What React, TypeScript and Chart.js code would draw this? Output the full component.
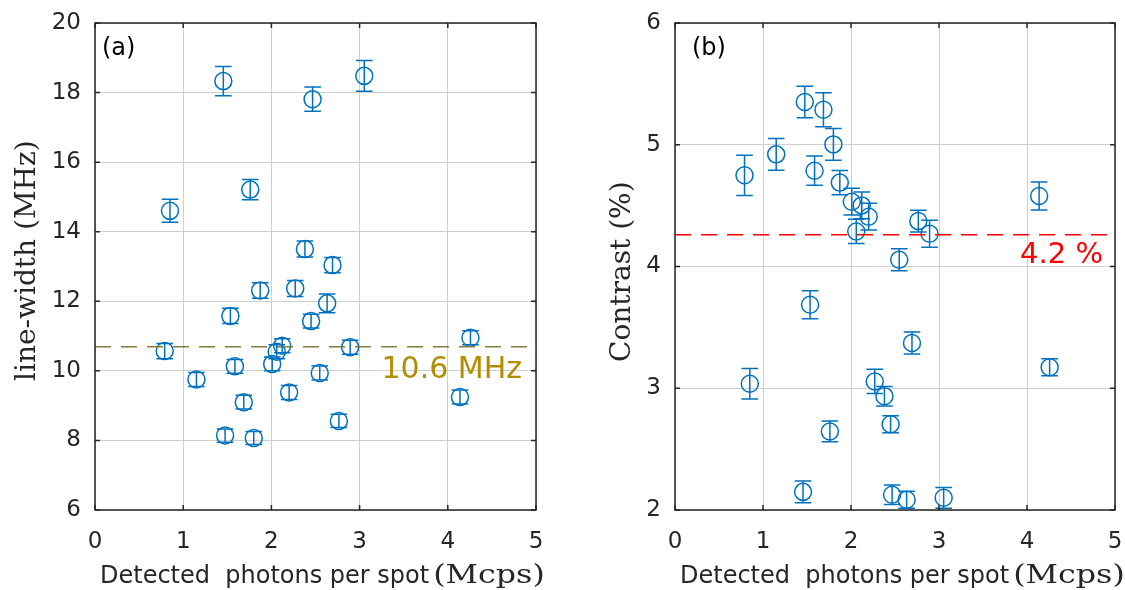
import React, { useEffect, useRef } from "react";
import { Chart, registerables } from "chart.js";

Chart.register(...registerables);

// ---------- data ----------
const photons = [0.79, 0.85, 1.15, 1.455, 1.475, 1.535, 1.586, 1.687, 1.76, 1.8, 1.873, 2.009, 2.06, 2.122, 2.201, 2.27, 2.38, 2.45, 2.467, 2.548, 2.632, 2.693, 2.765, 2.893, 3.053, 4.138, 4.257];
const lineWidth = [10.57, 14.6, 9.75, 18.33, 8.14, 11.58, 10.13, 9.1, 15.21, 8.07, 12.31, 10.2, 10.55, 10.72, 9.38, 12.37, 13.5, 11.43, 17.81, 9.94, 11.94, 13.04, 8.56, 10.68, 18.48, 9.25, 10.95];
const lineWidthErr = [0.22, 0.33, 0.2, 0.42, 0.19, 0.22, 0.2, 0.2, 0.29, 0.19, 0.22, 0.2, 0.2, 0.2, 0.2, 0.23, 0.23, 0.2, 0.35, 0.2, 0.27, 0.22, 0.19, 0.2, 0.44, 0.2, 0.2];
const contrast = [4.749, 3.037, 4.921, 2.149, 5.351, 3.686, 4.787, 5.288, 2.645, 5.003, 4.689, 4.532, 4.288, 4.502, 4.409, 3.056, 2.935, 2.705, 2.125, 4.056, 2.084, 3.371, 4.373, 4.269, 2.1, 4.579, 3.173];
const contrastErr = [0.165, 0.125, 0.13, 0.09, 0.13, 0.115, 0.12, 0.14, 0.085, 0.13, 0.1, 0.11, 0.1, 0.11, 0.11, 0.1, 0.08, 0.07, 0.08, 0.09, 0.07, 0.09, 0.09, 0.11, 0.085, 0.115, 0.07];

const xTicks = [0, 1, 2, 3, 4, 5];
const lwTicks = [6, 8, 10, 12, 14, 16, 18, 20];
const cTicks = [2, 3, 4, 5, 6];

const lwMean = 10.69;
const lwMeanLabel = "10.6 MHz";
const cMean = 4.261;
const cMeanLabel = "4.2 %";

const xTitleSans = "Detected  photons per spot";
const xTitleSerif = "(Mcps)";
const lwTitle = "line-width (MHz)";
const cTitle = "Contrast (%)";

// ---------- styles ----------
const BLUE = "#0072BD";
const AXIS = "#262626";
const GRID = "#cfcfcf";
const SANS = "'DejaVu Sans', Verdana, sans-serif";
const SERIF = "'DejaVu Serif', serif";

const errorBarPlugin = {
  id: "errorBars",
  afterDatasetsDraw(chart: any) {
    const ctx = chart.ctx;
    const xs = chart.scales.x;
    const ys = chart.scales.y;
    chart.data.datasets.forEach((ds: any) => {
      if (!ds.errors) return;
      ctx.save();
      ctx.strokeStyle = ds.borderColor;
      ctx.lineWidth = 1.5;
      ds.data.forEach((p: any, i: number) => {
        const e = ds.errors[i];
        const px = xs.getPixelForValue(p.x);
        const top = ys.getPixelForValue(p.y + e);
        const bot = ys.getPixelForValue(p.y - e);
        const cw = 8.3;
        ctx.beginPath();
        ctx.moveTo(px, top);
        ctx.lineTo(px, bot);
        ctx.moveTo(px - cw, top);
        ctx.lineTo(px + cw, top);
        ctx.moveTo(px - cw, bot);
        ctx.lineTo(px + cw, bot);
        ctx.stroke();
      });
      ctx.restore();
    });
  },
};

const decorPlugin = {
  id: "decor",
  afterDraw(chart: any, _args: any, o: any) {
    const ctx = chart.ctx;
    const a = chart.chartArea;
    const xs = chart.scales.x;
    const ys = chart.scales.y;
    ctx.save();
    // box
    ctx.strokeStyle = AXIS;
    ctx.lineWidth = 1.5;
    ctx.strokeRect(a.left, a.top, a.right - a.left, a.bottom - a.top);
    // inward ticks
    const tl = 5;
    ctx.beginPath();
    xs.ticks.forEach((t: any) => {
      const px = xs.getPixelForValue(t.value);
      ctx.moveTo(px, a.bottom);
      ctx.lineTo(px, a.bottom - tl);
      ctx.moveTo(px, a.top);
      ctx.lineTo(px, a.top + tl);
    });
    ys.ticks.forEach((t: any) => {
      const py = ys.getPixelForValue(t.value);
      ctx.moveTo(a.left, py);
      ctx.lineTo(a.left + tl, py);
      ctx.moveTo(a.right, py);
      ctx.lineTo(a.right - tl, py);
    });
    ctx.stroke();

    // panel label
    ctx.fillStyle = "#000";
    ctx.font = `24px ${SANS}`;
    ctx.textAlign = "left";
    ctx.textBaseline = "alphabetic";
    ctx.fillText(o.panel, a.left + o.panelDx, a.top + 32);

    // mean label
    ctx.fillStyle = o.meanColor;
    ctx.font = `${o.meanFont}px ${SANS}`;
    ctx.textAlign = "right";
    ctx.fillText(o.meanText, a.right - o.meanDx, ys.getPixelForValue(o.meanValue) + o.meanDy);

    // x title
    ctx.fillStyle = AXIS;
    ctx.textAlign = "left";
    ctx.font = `24px ${SANS}`;
    const x0 = a.left + 5;
    const base = 583;
    ctx.fillText(xTitleSans, x0, base);
    const w1 = ctx.measureText(xTitleSans).width;
    ctx.font = `26px ${SERIF}`;
    ctx.save();
    ctx.translate(x0 + w1 + 4, base);
    ctx.scale(1.22, 1);
    ctx.fillText(xTitleSerif, 0, 0);
    ctx.restore();

    // y title
    ctx.save();
    ctx.font = `28px ${SERIF}`;
    ctx.translate(a.left - o.yTitleGap, o.yTitleBottom);
    ctx.rotate(-Math.PI / 2);
    ctx.textAlign = "left";
    ctx.fillText(o.yTitle, 0, 0);
    ctx.restore();

    ctx.restore();
  },
};

function makeConfig(
  yVals: number[],
  yErr: number[],
  yTickVals: number[],
  meanValue: number,
  meanLineColor: string,
  decor: any,
  padRight: number
): any {
  const step = yTickVals[1] - yTickVals[0];
  return {
    type: "scatter",
    data: {
      datasets: [
        {
          type: "line",
          data: [
            { x: xTicks[0], y: meanValue },
            { x: xTicks[xTicks.length - 1], y: meanValue },
          ],
          borderColor: meanLineColor,
          borderWidth: 1.5,
          borderDash: [16, 10],
          pointRadius: 0,
          fill: false,
        },
        {
          data: photons.map((x, i) => ({ x, y: yVals[i] })),
          errors: yErr,
          borderColor: BLUE,
          backgroundColor: "rgba(0,0,0,0)",
          pointRadius: 8.5,
          pointHoverRadius: 8.5,
          pointBorderWidth: 1.5,
          showLine: false,
          clip: false,
        },
      ],
    },
    options: {
      animation: false,
      responsive: false,
      devicePixelRatio: 1,
      layout: { padding: { left: 0, right: padRight, top: 23, bottom: 0 } },
      plugins: {
        legend: { display: false },
        tooltip: { enabled: false },
        decor,
      },
      scales: {
        x: {
          type: "linear",
          min: xTicks[0],
          max: xTicks[xTicks.length - 1],
          afterFit: (s: any) => {
            s.height = 80;
            s.paddingLeft = 0;
            s.paddingRight = 0;
          },
          ticks: {
            stepSize: 1,
            color: AXIS,
            font: { family: SANS, size: 23 },
            padding: 18,
          },
          grid: { color: GRID, lineWidth: 1, drawTicks: false },
          border: { display: false },
        },
        y: {
          type: "linear",
          min: yTickVals[0],
          max: yTickVals[yTickVals.length - 1],
          afterFit: (s: any) => {
            s.width = 95;
            s.paddingTop = 0;
            s.paddingBottom = 0;
          },
          ticks: {
            stepSize: step,
            color: AXIS,
            font: { family: SANS, size: 23 },
            padding: 14,
          },
          grid: { color: GRID, lineWidth: 1, drawTicks: false },
          border: { display: false },
        },
      },
    },
    plugins: [errorBarPlugin, decorPlugin],
  };
}

function Panel(props: { left: number; width: number; config: any }) {
  const ref = useRef<HTMLCanvasElement | null>(null);
  useEffect(() => {
    if (!ref.current) return;
    const chart = new Chart(ref.current, props.config);
    return () => chart.destroy();
  }, []);
  return (
    <canvas
      ref={ref}
      width={props.width}
      height={590}
      style={{ position: "absolute", left: props.left, top: 0, width: props.width, height: 590 }}
    />
  );
}

export default function App() {
  const leftCfg = makeConfig(
    lineWidth,
    lineWidthErr,
    lwTicks,
    lwMean,
    "#857b3b",
    {
      panel: "(a)",
      panelDx: 7,
      meanText: lwMeanLabel,
      meanColor: "#b38f00",
      meanFont: 30,
      meanValue: lwMean,
      meanDx: 14,
      meanDy: 31,
      yTitle: lwTitle,
      yTitleGap: 60,
      yTitleBottom: 381,
    },
    44
  );
  const rightCfg = makeConfig(
    contrast,
    contrastErr,
    cTicks,
    cMean,
    "#ff0000",
    {
      panel: "(b)",
      panelDx: 17,
      meanText: cMeanLabel,
      meanColor: "#ff0000",
      meanFont: 29,
      meanValue: cMean,
      meanDx: 12,
      meanDy: 28,
      yTitle: cTitle,
      yTitleGap: 45,
      yTitleBottom: 362,
    },
    8
  );
  return (
    <div style={{ position: "fixed", left: 0, top: 0, width: 1125, height: 590, background: "#fff" }}>
      <Panel left={0} width={580} config={leftCfg} />
      <Panel left={580} width={545} config={rightCfg} />
    </div>
  );
}
